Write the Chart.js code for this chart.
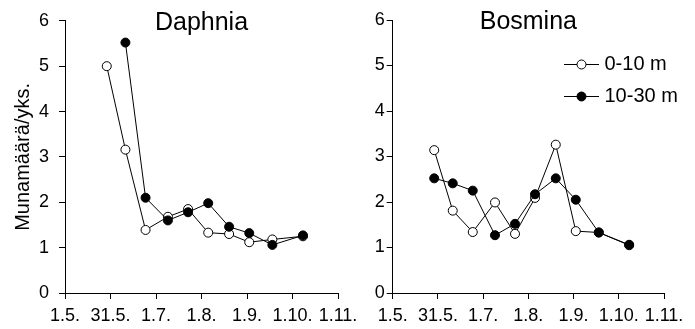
<!DOCTYPE html>
<html>
<head>
<meta charset="utf-8">
<script src="https://cdn.jsdelivr.net/npm/chart.js@4"></script>
<style>
  html, body { margin: 0; padding: 0; background: #fff; }
  #wrap { position: relative; width: 695px; height: 329px; }
  #wrap canvas { position: absolute; left: 0; top: 0; }
</style>
</head>
<body>
<div id="wrap">
  <canvas id="daphnia" width="695" height="329"></canvas>
  <canvas id="bosmina" width="695" height="329"></canvas>
</div>
<script>
// x-akseli: päiviä 1.5. jälkeen
var tickDays = [0, 30.5, 61, 91.5, 122, 152.5, 183];
var tickLabels = ['1.5.', '31.5.', '1.7.', '1.8.', '1.9.', '1.10.', '1.11.'];
var sampleDays = [28, 40.5, 54, 69, 82.5, 96, 110, 123.5, 139, 159.5];
var seriesNames = ['0-10 m', '10-30 m'];

// munamäärä / yksilö
var daphniaTop = [5.0, 3.16, 1.39, 1.68, 1.85, 1.33, 1.30, 1.12, 1.18, 1.25];
var daphniaDeep = [null, 5.52, 2.10, 1.60, 1.78, 1.98, 1.46, 1.32, 1.06, 1.27];
var bosminaTop = [3.14, 1.81, 1.34, 1.99, 1.30, 2.09, 3.26, 1.36, 1.33, 1.05];
var bosminaDeep = [2.52, 2.41, 2.25, 1.27, 1.52, 2.17, 2.52, 2.05, 1.33, 1.06];

Chart.defaults.font.family = '"Liberation Sans", Arial, sans-serif';
Chart.defaults.color = '#000';

function pts(vals) {
  return sampleDays.map(function (d, i) { return { x: d, y: vals[i] }; })
    .filter(function (p) { return p.y !== null; });
}

// legendan merkki: viiva + pallo
function legendMark(fill) {
  var c = document.createElement('canvas');
  c.width = 35; c.height = 13;
  var g = c.getContext('2d');
  g.strokeStyle = '#000'; g.lineWidth = 1;
  g.beginPath(); g.moveTo(0, 6.5); g.lineTo(35, 6.5); g.stroke();
  g.beginPath(); g.arc(17.5, 6.5, 4.5, 0, Math.PI * 2);
  g.fillStyle = fill; g.fill(); g.stroke();
  return c;
}
var marks = [legendMark('#fff'), legendMark('#000')];

// siirretään legenda kuvaajan oikeaan yläkulmaan
var legendSpot = {
  id: 'legendSpot',
  afterLayout: function (chart) {
    if (!chart.options.plugins.legend.display) return;
    var lg = chart.legend, a = chart.chartArea;
    lg.left = a.right - 107.5;
    lg.top = a.top + 22.5;
    lg.right = lg.left + lg.width;
    lg.bottom = lg.top + lg.height;
  }
};

function makeChart(id, title, topVals, deepVals, cfg) {
  var ctx = document.getElementById(id).getContext('2d');
  return new Chart(ctx, {
    type: 'line',
    data: {
      datasets: [{
        label: seriesNames[0],
        data: pts(topVals),
        borderColor: '#000',
        borderWidth: 1,
        backgroundColor: '#fff',
        pointBackgroundColor: '#fff',
        pointBorderColor: '#000',
        pointBorderWidth: 1,
        pointRadius: 4.5,
        order: 1
      }, {
        label: seriesNames[1],
        data: pts(deepVals),
        borderColor: '#000',
        borderWidth: 1,
        backgroundColor: '#000',
        pointBackgroundColor: '#000',
        pointBorderColor: '#000',
        pointBorderWidth: 1,
        pointRadius: 4.5,
        order: 0
      }]
    },
    options: {
      responsive: false,
      animation: false,
      events: [],
      layout: { padding: { left: cfg.padL, right: cfg.padR, top: 0, bottom: 0 } },
      scales: {
        x: {
          type: 'linear',
          min: 0,
          max: 183,
          afterBuildTicks: function (s) { s.ticks = tickDays.map(function (v) { return { value: v }; }); },
          afterFit: function (s) { s.height = 36; },
          ticks: {
            autoSkip: false, maxRotation: 0, padding: 6,
            font: { size: 18 }, color: '#000',
            callback: function (v, i) { return tickLabels[i]; }
          },
          grid: { drawOnChartArea: false, drawTicks: true, tickLength: 6, color: '#000' },
          border: { display: true, color: '#000', width: 1 }
        },
        y: {
          min: 0,
          max: 6,
          afterFit: function (s) { s.width = cfg.yWidth; },
          ticks: { stepSize: 1, padding: cfg.tickPad, font: { size: 18 }, color: '#000' },
          grid: { drawOnChartArea: false, drawTicks: true, tickLength: 6, color: '#000' },
          border: { display: true, color: '#000', width: 1 },
          title: {
            display: cfg.yTitle,
            text: 'Munamäärä/yks.',
            font: { size: 20 },
            color: '#000',
            padding: { top: 11, bottom: 0 }
          }
        }
      },
      plugins: {
        title: {
          display: true,
          text: title,
          fullSize: false,
          color: '#000',
          font: { size: 25, weight: 'normal', lineHeight: 1 },
          padding: { top: 10, bottom: -15 }
        },
        tooltip: { enabled: false },
        legend: {
          display: cfg.legend,
          position: 'chartArea',
          align: 'start',
          labels: {
            usePointStyle: true,
            pointStyleWidth: 26,
            padding: 12,
            color: '#000',
            font: { size: 20 },
            generateLabels: function (chart) {
              return chart.data.datasets.map(function (ds, i) {
                return {
                  text: ds.label, pointStyle: marks[i], datasetIndex: i,
                  hidden: false, lineWidth: 0, fontColor: '#000',
                  strokeStyle: 'rgba(0,0,0,0)', fillStyle: 'rgba(0,0,0,0)'
                };
              });
            }
          }
        }
      }
    },
    plugins: [legendSpot]
  });
}

makeChart('daphnia', 'Daphnia', daphniaTop, daphniaDeep,
  { padL: 0, padR: 357, yWidth: 65, yTitle: true, tickPad: 10, legend: false });
makeChart('bosmina', 'Bosmina', bosminaTop, bosminaDeep,
  { padL: 347, padR: 31, yWidth: 45.7, yTitle: false, tickPad: 2, legend: true });
</script>
</body>
</html>
